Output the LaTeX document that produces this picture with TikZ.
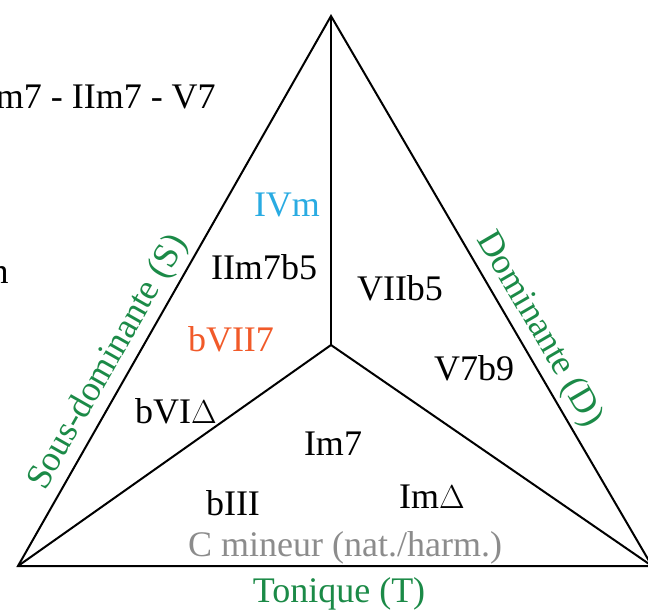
\documentclass[tikz,border=0pt]{standalone}
\usepackage{fontspec}
\setmainfont{Liberation Serif}
\usepackage{xcolor}
\usetikzlibrary{positioning}
\definecolor{tongreen}{HTML}{1B8A47}
\definecolor{ivcyan}{HTML}{29ABE2}
\definecolor{sevorange}{HTML}{F15A29}
\definecolor{modegray}{HTML}{8C8C8C}

\begin{document}
\begin{tikzpicture}[
  x=0.75pt, y=-0.75pt,
  side/.style={line width=1.5pt, line join=miter},
  chord/.style={font=\fontsize{27}{32}\selectfont, inner sep=0pt},
  fct/.style={chord, text=tongreen}
]
\useasboundingbox (0,0) rectangle (648,611);
\coordinate (top) at (331,16);
\coordinate (bl) at (18,566);
\coordinate (br) at (652,566);
\coordinate (ctr) at (331,345);
\draw[side] (top) -- (bl) -- (br) -- cycle;
\draw[side] (ctr) -- (top);
\draw[side] (ctr) -- (bl);
\draw[side] (ctr) -- (br);
% functions
\path (bl) -- node[fct, sloped, above=4pt, pos=0.35] (sd) {Sous-dominante (S)} (top);
\path (top) -- node[fct, sloped, above=4pt, pos=0.59] (dom) {Dominante (D)} (br);
\node[fct] (ton) at (339,594) {Tonique (T)};
\node[chord, text=modegray] (mode) at (345,548) {C mineur (nat./harm.)};
% chords
\node[chord, text=ivcyan] (ivm) at (287,205) {IVm};
\node[chord] (iim) at (264,267) {IIm7b5};
\node[chord] (viib) at (400,288) {VIIb5};
\node[chord, text=sevorange] (bvii) at (231,339) {bVII7};
\node[chord] (vsev) at (474,368) {V7b9};
\node[chord] (bvi) at (176,411) {bVI$\Delta$};
\node[chord] (imsev) at (333,444) {Im7};
\node[chord] (biii) at (233,503) {bIII};
\node[chord] (imaj) at (432,497) {Im$\Delta$};
% cut-off texts
\node[chord, anchor=east] (cad) at (216,97) {m7 - IIm7 - V7};
\node[chord, anchor=east] (cut) at (9,275) {n};
\end{tikzpicture}
\end{document}
